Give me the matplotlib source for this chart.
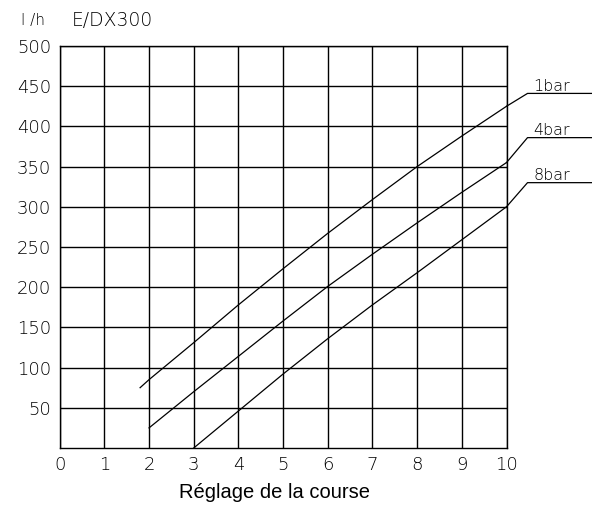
import matplotlib
matplotlib.use('Agg')
import matplotlib.pyplot as plt

# values (l/h against stroke setting)
x_1bar = [1.8, 2, 3, 4, 5, 6, 7, 8, 9, 10]
y_1bar = [75, 85, 131, 178, 223, 267, 309, 350, 388, 425]

x_4bar = [2, 3, 4, 5, 6, 7, 8, 9, 10]
y_4bar = [25, 70, 114, 158, 201, 241, 280, 318, 355]

x_8bar = [3, 4, 5, 6, 7, 8, 9, 10]
y_8bar = [0, 46, 92, 136, 178, 218, 259, 300]

labels = ['1bar', '4bar', '8bar']
leader_y = [441, 386, 330]

x_ticks = list(range(0, 11))
y_ticks = list(range(50, 501, 50))

fig = plt.figure(figsize=(5.92, 5.16), dpi=100)
ax = fig.add_axes([0.1008, 0.1318, 0.7548, 0.7791])

ax.set_xlim(0, 10)
ax.set_ylim(0, 500)
ax.set_xticks(x_ticks)
ax.set_yticks(y_ticks)
ax.grid(True, color='black', linewidth=1.0)
ax.tick_params(length=0, pad=6, labelsize=13)
for lab in ax.get_xticklabels() + ax.get_yticklabels():
    lab.set_fontweight('light')
for s in ax.spines.values():
    s.set_linewidth(1.0)

series = [(x_1bar, y_1bar), (x_4bar, y_4bar), (x_8bar, y_8bar)]
for (xs, ys), name, ly in zip(series, labels, leader_y):
    ax.plot(xs, ys, color='black', linewidth=0.9)
    # leader line out to the label on the right
    ax.plot([xs[-1], 10.47, 11.9], [ys[-1], ly, ly], color='black',
            linewidth=0.9, clip_on=False)
    ax.text(10.6, ly + 3, name, fontsize=11.5, fontweight='light',
            ha='left', va='baseline', clip_on=False)

fig.text(0.036, 0.961, 'l /h', fontsize=11, fontweight='light', va='center')
fig.text(0.121, 0.961, 'E/DX300', fontsize=13.5, fontweight='light', va='center')
fig.text(0.463, 0.045, 'Réglage de la course', fontsize=14.5,
         family='Liberation Sans', ha='center', va='center')

fig.savefig('out.png', dpi=100)
